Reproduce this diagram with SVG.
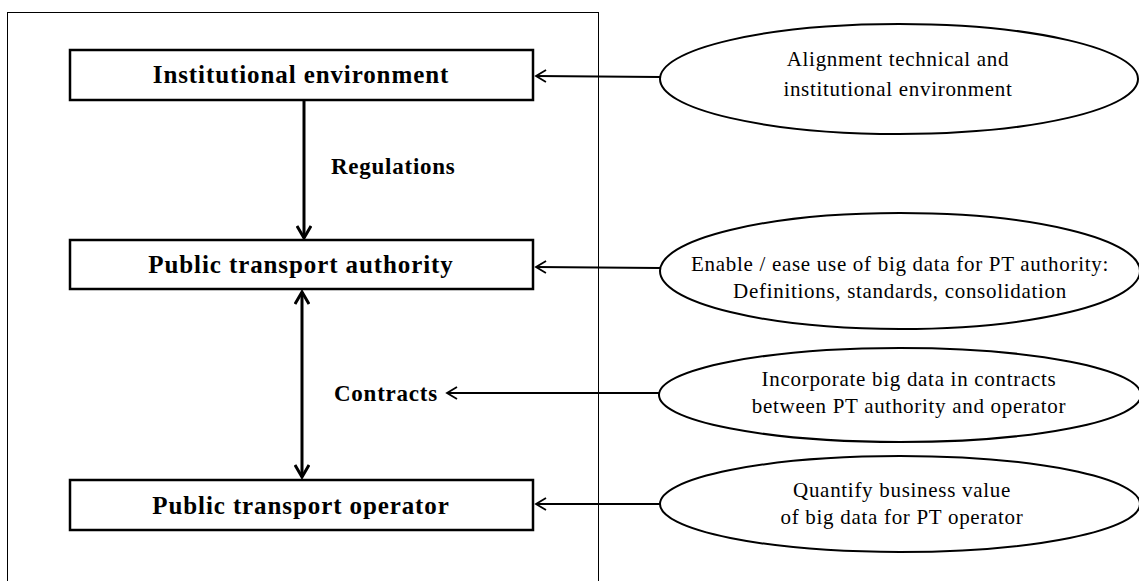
<svg xmlns="http://www.w3.org/2000/svg" width="1139" height="581" viewBox="0 0 1139 581">
<style>
.box{fill:#fff;stroke:#000;stroke-width:2.5}
.ell{fill:#fff;stroke:#000;stroke-width:2}
.bt{font-family:"Liberation Serif",serif;font-weight:bold;font-size:25px;letter-spacing:0.9px;text-anchor:middle;fill:#000}
.lt{font-family:"Liberation Serif",serif;font-weight:bold;font-size:23px;letter-spacing:0.75px;fill:#000}
.et{font-family:"Liberation Serif",serif;font-size:21px;letter-spacing:0.7px;text-anchor:middle;fill:#000}
.h{stroke:#000;stroke-width:1.8;fill:none}
.v{stroke:#000;stroke-width:3;fill:none}
</style>
<defs>
<marker id="oa" markerWidth="14" markerHeight="14" refX="12" refY="7" orient="auto" markerUnits="userSpaceOnUse">
<path d="M2,1 L12,7 L2,13" fill="none" stroke="#000" stroke-width="1.8"/>
</marker>
<marker id="va" markerWidth="16" markerHeight="16" refX="14" refY="8" orient="auto-start-reverse" markerUnits="userSpaceOnUse">
<path d="M2,1 L14,8 L2,15" fill="none" stroke="#000" stroke-width="3"/>
</marker>
</defs>
<rect id="frame" x="7.5" y="12.5" width="591" height="580" fill="none" stroke="#000" stroke-width="1"/>
<g id="n-inst"><rect class="box" x="70" y="50" width="463" height="50"/><text class="bt" x="301" y="83">Institutional environment</text></g>
<g id="n-auth"><rect class="box" x="70" y="240" width="463" height="49"/><text class="bt" x="301" y="273">Public transport authority</text></g>
<g id="n-oper"><rect class="box" x="70" y="480" width="463" height="50"/><text class="bt" x="301" y="514">Public transport operator</text></g>
<g id="l-reg"><text class="lt" x="331" y="174">Regulations</text></g>
<g id="l-con"><text class="lt" x="334" y="401">Contracts</text></g>
<g id="e1"><ellipse class="ell" cx="899" cy="79" rx="239" ry="55"/><text class="et" x="898" y="66">Alignment technical and</text><text class="et" x="898" y="96">institutional environment</text></g>
<g id="e2"><ellipse class="ell" cx="900" cy="271" rx="240" ry="58"/><text class="et" x="900" y="271">Enable / ease use of big data for PT authority:</text><text class="et" x="900" y="298">Definitions, standards, consolidation</text></g>
<g id="e3"><ellipse class="ell" cx="900" cy="395" rx="241" ry="47"/><text class="et" x="909" y="386">Incorporate big data in contracts</text><text class="et" x="909" y="413">between PT authority and operator</text></g>
<g id="e4"><ellipse class="ell" cx="900" cy="504" rx="240" ry="48"/><text class="et" x="902" y="497">Quantify business value</text><text class="et" x="902" y="524">of big data for PT operator</text></g>
<g id="connectors">
<line class="v" x1="304" y1="101" x2="304" y2="238" marker-end="url(#va)"/>
<line class="v" x1="302" y1="292" x2="302" y2="477" marker-start="url(#va)" marker-end="url(#va)"/>
<line class="h" x1="660" y1="77" x2="536" y2="76" marker-end="url(#oa)"/>
<line class="h" x1="660" y1="268" x2="536" y2="267" marker-end="url(#oa)"/>
<line class="h" x1="660" y1="393" x2="447" y2="393" marker-end="url(#oa)"/>
<line class="h" x1="660" y1="504" x2="536" y2="504" marker-end="url(#oa)"/>
</g>
</svg>
